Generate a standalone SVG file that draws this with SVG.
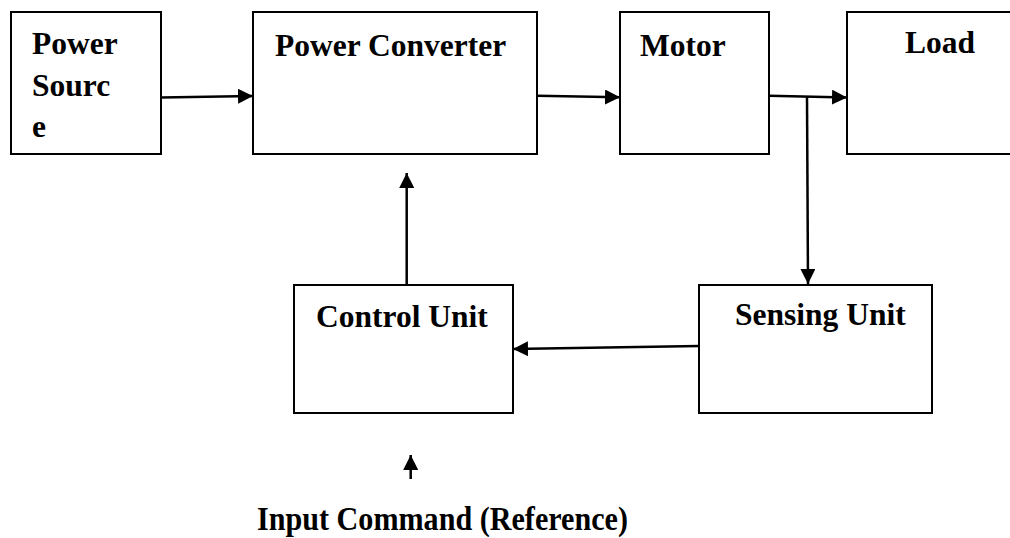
<svg xmlns="http://www.w3.org/2000/svg" width="1010" height="538" viewBox="0 0 1010 538">
<style>
.box{fill:#fff;stroke:#000;stroke-width:2}
.lbl{font-family:"Liberation Serif","Times New Roman",serif;font-weight:bold;font-size:31.5px;fill:#000}
.big{font-size:34px}
.ln{stroke:#000;stroke-width:2.5;fill:none}
</style>
<defs>
<marker id="ah" viewBox="0 0 10 10" refX="10" refY="5" markerWidth="6" markerHeight="6" markerUnits="strokeWidth" orient="auto">
<path d="M0,0 L10,5 L0,10 z" fill="#000"/>
</marker>
</defs>
<rect width="1010" height="538" fill="#fff"/>
<g id="power-source"><rect class="box" x="11" y="12" width="150" height="142"/>
<text class="lbl" x="32" y="54">Power</text><text class="lbl" x="32" y="96">Sourc</text><text class="lbl" x="32" y="137">e</text></g>
<g id="power-converter"><rect class="box" x="253" y="12" width="284" height="142"/>
<text class="lbl" x="275" y="56">Power Converter</text></g>
<g id="motor"><rect class="box" x="620" y="12" width="149" height="142"/>
<text class="lbl" x="640" y="56">Motor</text></g>
<g id="load"><rect class="box" x="847" y="12" width="170" height="142"/>
<text class="lbl" x="905" y="53">Load</text></g>
<g id="control-unit"><rect class="box" x="294" y="285" width="219" height="128"/>
<text class="lbl" x="316" y="327">Control Unit</text></g>
<g id="sensing-unit"><rect class="box" x="699" y="285" width="233" height="128"/>
<text class="lbl" x="735" y="325">Sensing Unit</text></g>
<g id="input-label"><text class="lbl big" x="257" y="530" textLength="371" lengthAdjust="spacingAndGlyphs">Input Command (Reference)</text></g>
<g id="connectors">
<line class="ln" x1="161" y1="97.5" x2="253" y2="96" marker-end="url(#ah)"/>
<line class="ln" x1="537" y1="95.7" x2="620" y2="97.3" marker-end="url(#ah)"/>
<line class="ln" x1="769" y1="95.7" x2="847" y2="97.5" marker-end="url(#ah)"/>
<line class="ln" x1="807" y1="97" x2="808" y2="284" marker-end="url(#ah)"/>
<line class="ln" x1="699" y1="346" x2="513" y2="349" marker-end="url(#ah)"/>
<line class="ln" x1="406.7" y1="285" x2="406.7" y2="173" marker-end="url(#ah)"/>
<line class="ln" x1="410.7" y1="479" x2="410.7" y2="455" marker-end="url(#ah)"/>
</g>
</svg>
